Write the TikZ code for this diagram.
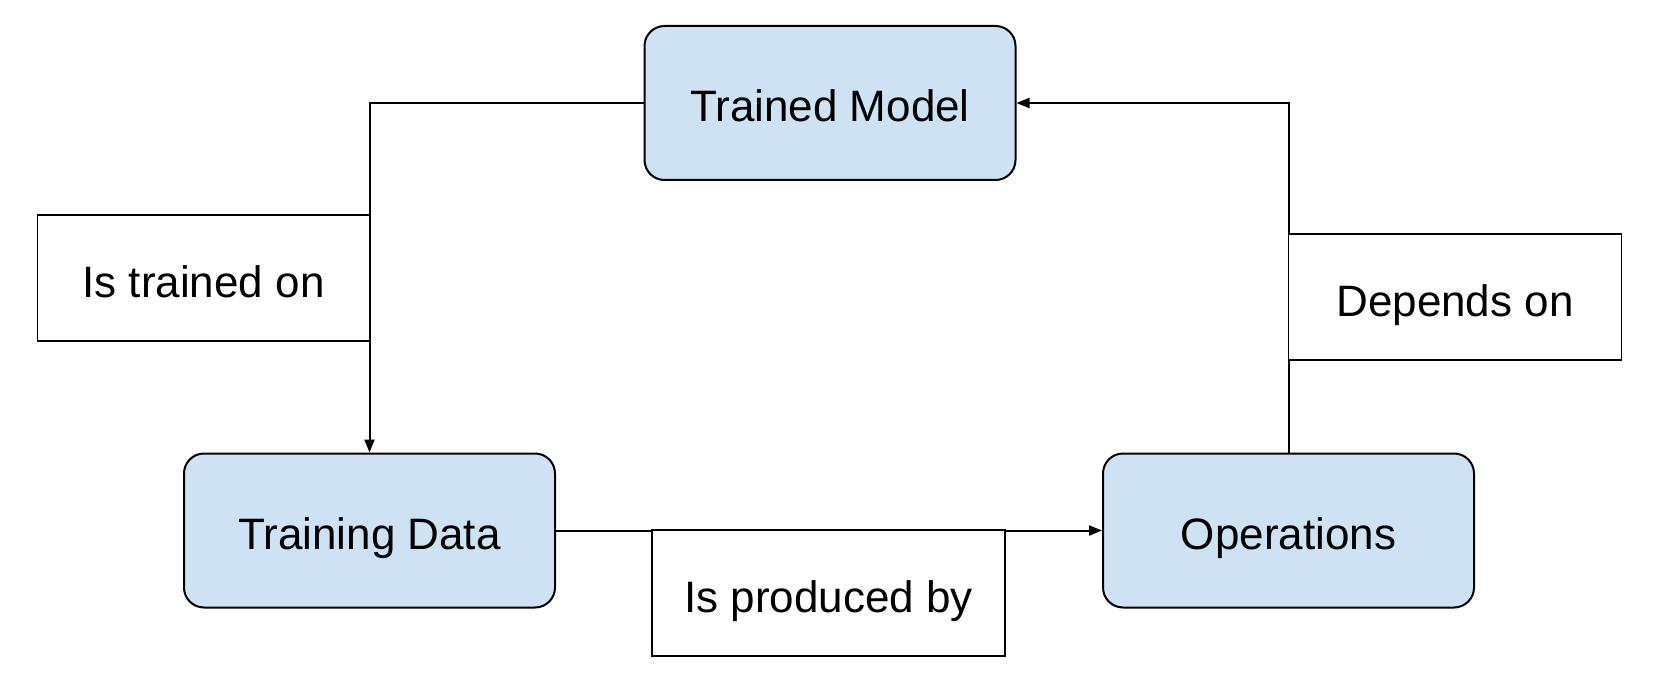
\documentclass[tikz,border=0pt]{standalone}
\usepackage{fontspec}
\setmainfont{Liberation Sans}
\usetikzlibrary{arrows.meta}
\definecolor{boxblue}{HTML}{CFE2F3}
\tikzset{
  entity/.style={draw=black, fill=boxblue, rounded corners=20pt, line width=2pt,
    inner sep=0pt, minimum width=371pt, minimum height=154pt,
    text height=38pt, text depth=0pt,
    font=\fontsize{44}{53}\selectfont},
  relbox/.style={draw=black, fill=white, line width=1.6pt, inner sep=0pt,
    minimum height=126pt, text height=39pt, text depth=0pt,
    font=\fontsize{44}{53}\selectfont},
  conn/.style={line width=2pt, -{Triangle[length=13pt,width=10pt]}}
}
\begin{document}
\begin{tikzpicture}[x=1pt,y=-1pt]
\useasboundingbox (0,0) rectangle (1657,687);
\node[entity] (tm) at (830,103) {Trained Model};
\node[entity] (td) at (369.5,530.5) {Training Data};
\node[entity] (op) at (1288.5,530.5) {Operations};
\draw[conn] (tm.west) -| (td.north);
\draw[conn] (td.east) -- (op.west);
\draw[conn] (op.north) |- (tm.east);
\node[relbox, minimum width=332pt] (l1) at (203.5,278) {Is trained on};
\node[relbox, minimum width=333pt] (l2) at (1455,297) {Depends on};
\node[relbox, minimum width=353pt] (l3) at (828.5,593) {Is produced by};
\end{tikzpicture}
\end{document}
